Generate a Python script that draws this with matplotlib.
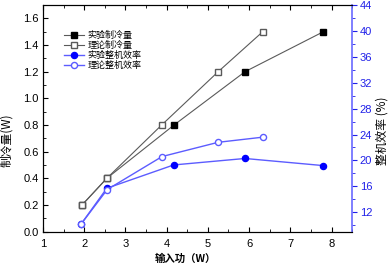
import matplotlib
matplotlib.use("Agg")
import matplotlib.pyplot as plt
from matplotlib.ticker import MultipleLocator

plt.rcParams['font.family'] = ['Liberation Sans', 'Noto Sans CJK SC', 'DejaVu Sans']
cjk = ['Noto Sans CJK SC', 'DejaVu Sans']

# Data
exp_cool_x = [1.95, 2.55, 4.18, 5.90, 7.80]
exp_cool_y = [0.20, 0.40, 0.80, 1.20, 1.50]
th_cool_x = [1.95, 2.55, 3.88, 5.25, 6.33]
th_cool_y = [0.20, 0.40, 0.80, 1.20, 1.50]
exp_eff_x = [1.93, 2.55, 4.17, 5.90, 7.80]
exp_eff_y = [10.2, 15.7, 19.3, 20.3, 19.2]
th_eff_x = [1.93, 2.56, 3.89, 5.25, 6.34]
th_eff_y = [10.2, 15.5, 20.6, 22.8, 23.6]

labels = ['实验制冷量', '理论制冷量', '实验整机效率', '理论整机效率']

fig = plt.figure(figsize=(3.9, 2.69), dpi=100)
ax = fig.add_axes([0.110, 0.139, 0.793, 0.842])
ax2 = ax.twinx()

gray = '#5a5a5a'
bl_line = '#5c5cff'
bl_mark = '#0000ff'

l1, = ax.plot(exp_cool_x, exp_cool_y, '-', color=gray, lw=0.8, marker='s', ms=4.2,
              mfc='black', mec='black', zorder=3)
l2, = ax.plot(th_cool_x, th_cool_y, '-', color=gray, lw=0.8, marker='s', ms=4.2,
              mfc='white', mec=gray, zorder=4)
l3, = ax2.plot(exp_eff_x, exp_eff_y, '-', color=bl_line, lw=1.0, marker='o', ms=4.4,
               mfc=bl_mark, mec=bl_mark, zorder=3)
l4, = ax2.plot(th_eff_x, th_eff_y, '-', color=bl_line, lw=1.0, marker='o', ms=4.4,
               mfc='white', mec=bl_line, zorder=4)

ax.set_xlim(1, 8.5)
ax.set_ylim(0, 1.7)
ax2.set_ylim(9, 44)

ax.xaxis.set_major_locator(MultipleLocator(1))
ax.xaxis.set_minor_locator(MultipleLocator(0.5))
ax.yaxis.set_major_locator(MultipleLocator(0.2))
ax.yaxis.set_minor_locator(MultipleLocator(0.1))
ax2.yaxis.set_major_locator(MultipleLocator(4))
ax2.yaxis.set_minor_locator(MultipleLocator(2))

ax.tick_params(axis='both', which='both', direction='in', top=True, labelsize=8, pad=3)
ax.tick_params(axis='both', which='major', length=3.5, width=0.8)
ax.tick_params(axis='both', which='minor', length=2, width=0.6)
ax.tick_params(axis='x', pad=5)

ax2.tick_params(axis='y', which='both', direction='out', colors='#2020e8', labelsize=8, pad=2)
ax2.tick_params(axis='y', which='major', length=3.5, width=0.8)
ax2.tick_params(axis='y', which='minor', length=2, width=0.6)
ax2.spines['right'].set_color('#6a6aff')
ax2.spines['right'].set_linewidth(1.2)

for s in ['left', 'top', 'bottom']:
    ax.spines[s].set_linewidth(0.8)
ax.spines['right'].set_visible(False)

ax.set_yticklabels([f'{v:.1f}' for v in ax.get_yticks()])

fig.text(0.016, 0.48, '制冷量(W)', rotation=90, ha='center', va='center',
         fontsize=8.5, family=cjk)
fig.text(0.980, 0.515, '整机效率 (%)', rotation=90, ha='center', va='center',
         fontsize=8.5, family=cjk)
fig.text(0.475, 0.04, '输入功（W）', ha='center', va='center', fontsize=7.5,
         family=cjk, fontweight='bold')

leg = ax.legend([l1, l2, l3, l4], labels, loc='upper left',
                bbox_to_anchor=(0.05, 0.91), frameon=False,
                prop={'family': cjk, 'size': 6.5}, handlelength=2.2,
                handletextpad=0.4, labelspacing=0.12, borderaxespad=0.2)

fig.savefig('out.png', dpi=100)
